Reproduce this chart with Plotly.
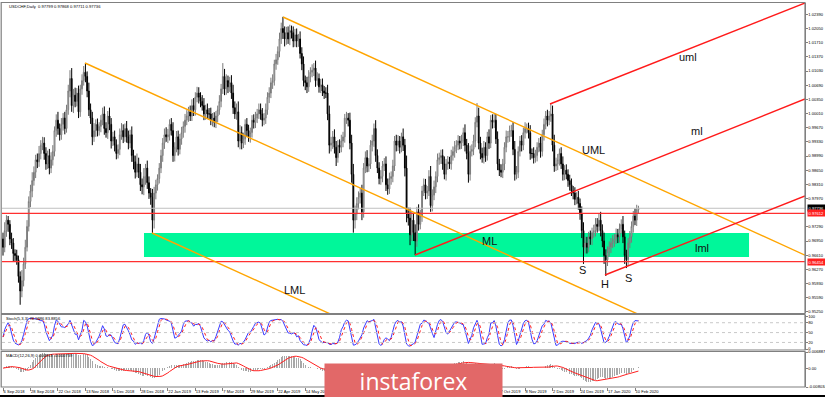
import plotly.graph_objects as go
import pandas as pd
import numpy as np

# ---------------- data ----------------
first_open = 0.9700
closes = [
0.9680,0.9720,0.9745,0.9735,0.9700,0.9690,0.9665,0.9660,0.9650,0.9610,
0.9575,0.9600,0.9640,0.9680,0.9730,0.9790,0.9815,0.9840,0.9860,0.9890,
0.9885,0.9905,0.9925,0.9930,0.9905,0.9880,0.9900,0.9870,0.9890,0.9910,
0.9960,0.9985,0.9965,0.9950,0.9975,0.9990,0.9965,1.0010,1.0055,1.0085,
1.0020,1.0045,1.0030,1.0050,1.0005,1.0060,1.0080,1.0100,1.0090,1.0055,
1.0010,0.9990,0.9945,0.9960,0.9975,0.9960,0.9970,0.9985,1.0000,0.9965,
0.9955,0.9995,0.9975,0.9935,0.9945,0.9925,0.9905,0.9915,0.9950,0.9960,
0.9945,0.9965,0.9945,0.9930,0.9950,0.9900,0.9885,0.9860,0.9880,0.9860,
0.9830,0.9825,0.9850,0.9870,0.9835,0.9810,0.9800,0.9745,0.9810,0.9830,
0.9845,0.9870,0.9900,0.9930,0.9950,0.9945,0.9950,0.9975,0.9960,0.9900,
0.9920,0.9945,0.9915,0.9940,0.9955,0.9970,0.9985,0.9995,1.0005,0.9995,
1.0020,1.0010,1.0040,1.0050,1.0040,1.0030,1.0020,1.0000,1.0010,1.0000,
1.0000,0.9985,0.9990,0.9980,0.9995,1.0010,1.0030,1.0060,1.0090,1.0060,
1.0080,1.0065,1.0075,1.0050,1.0015,1.0000,1.0005,0.9935,0.9955,0.9930,
0.9940,0.9975,0.9960,0.9945,0.9955,0.9985,0.9980,0.9990,1.0000,1.0010,
1.0000,0.9985,0.9990,1.0010,1.0040,1.0050,1.0075,1.0080,1.0120,1.0130,
1.0150,1.0180,1.0205,1.0195,1.0180,1.0195,1.0180,1.0200,1.0195,1.0175,
1.0190,1.0175,1.0180,1.0145,1.0120,1.0080,1.0075,1.0065,1.0090,1.0100,
1.0105,1.0110,1.0080,1.0085,1.0065,1.0070,1.0055,1.0050,1.0050,1.0000,
0.9925,0.9930,0.9945,0.9920,0.9895,0.9925,0.9920,0.9935,0.9945,0.9990,
0.9990,0.9985,0.9930,0.9855,0.9745,0.9760,0.9785,0.9800,0.9810,0.9765,
0.9870,0.9895,0.9875,0.9880,0.9925,0.9935,0.9965,0.9900,0.9870,0.9845,
0.9850,0.9875,0.9880,0.9830,0.9820,0.9845,0.9850,0.9875,0.9935,0.9925,
0.9935,0.9920,0.9945,0.9925,0.9870,0.9760,0.9750,0.9710,0.9745,0.9715,
0.9695,0.9765,0.9735,0.9755,0.9815,0.9830,0.9810,0.9815,0.9850,0.9780,
0.9805,0.9825,0.9850,0.9890,0.9895,0.9900,0.9880,0.9855,0.9880,0.9885,
0.9880,0.9900,0.9910,0.9920,0.9925,0.9935,0.9930,0.9935,0.9955,0.9925,
0.9905,0.9855,0.9910,0.9915,0.9935,0.9980,0.9995,0.9930,0.9905,0.9895,
0.9920,0.9900,0.9945,0.9930,0.9985,0.9980,0.9985,0.9940,0.9880,0.9865,
0.9860,0.9880,0.9920,0.9945,0.9945,0.9960,0.9960,0.9915,0.9855,0.9860,
0.9910,0.9935,0.9925,0.9955,0.9965,0.9965,0.9955,0.9905,0.9905,0.9895,
0.9900,0.9920,0.9930,0.9910,0.9950,0.9975,0.9995,0.9985,0.9995,1.0000,
0.9925,0.9875,0.9880,0.9890,0.9905,0.9880,0.9855,0.9865,0.9855,0.9840,
0.9830,0.9815,0.9810,0.9795,0.9800,0.9785,0.9760,0.9720,0.9680,0.9690,
0.9680,0.9705,0.9700,0.9715,0.9720,0.9735,0.9730,0.9745,0.9720,0.9695,
0.9660,0.9650,0.9670,0.9680,0.9690,0.9695,0.9700,0.9710,0.9705,0.9725,
0.9735,0.9705,0.9660,0.9650,0.9690,0.9705,0.9730,0.9755,0.9745,0.9770,
0.97736]

# upper / lower wick lengths in pips
wick_up = [
15,20,12,10,10,15,12,10,14,10, 12,25,15,18,15,12,15,20,14,12,
15,18,12,15,14,15,12,16,18,15, 10,14,20,12,15,12,15,12,15,20,
25,15,18,12,18,10,15,15,22,12, 20,15,15,18,12,14,10,12,15,18,
15,12,20,15,12,15,14,12,15,18, 15,12,18,15,12,20,14,15,25,15,
20,15,20,10,18,15,12,20,15,12, 10,12,14,12,15,18,14,12,15,20,
12,14,15,12,14,12,15,14,12,15, 15,18,12,15,14,12,15,18,12,15,
14,15,12,14,12,10,15,12,32,18, 15,12,14,18,20,15,20,25,18,15,
15,12,15,14,12,12,14,15,12,15, 15,14,12,15,12,14,12,15,10,14,
12,15,14,28,15,14,15,14,12,15, 14,15,12,18,15,18,12,14,15,12,
14,12,18,15,12,14,15,12,14,20, 20,15,14,18,15,12,14,15,12,10,
15,12,18,20,25,20,15,14,12,20, 12,15,18,14,12,15,12,20,15,14,
15,12,14,18,15,14,12,15,12,15, 14,12,10,20,15,30,15,25,20,15,
20,12,18,15,12,15,14,12,15,25, 14,15,12,15,12,14,15,18,12,14,
12,14,12,15,12,14,12,15,12,20, 15,25,14,12,15,12,31,20,15,14,
15,12,12,18,12,14,15,15,18,12, 14,12,12,15,14,12,14,20,20,15,
12,12,14,12,15,12,14,18,12,15, 14,12,12,15,12,14,12,15,12,24,
20,25,15,14,12,15,18,12,14,12, 14,15,12,14,12,15,12,18,20,15,
15,12,15,12,14,15,15,17,20,15, 20,15,12,14,12,14,12,15,14,12,
12,20,15,14,12,14,12,12,18,12, 6]
wick_dn = [
20,12,15,18,15,14,18,15,12,15, 33,15,14,12,10,12,14,15,12,14,
15,12,14,12,15,14,12,15,12,14, 12,15,15,14,12,15,14,10,12,15,
15,18,14,12,15,12,14,12,14,15, 15,14,20,12,15,14,12,14,12,15,
12,15,14,18,12,15,14,12,14,12, 15,12,14,15,12,15,18,15,12,14,
15,18,20,20,15,14,18,31,20,15, 14,12,12,15,14,12,15,14,12,15,
14,12,15,12,14,12,15,12,14,12, 12,15,14,12,15,14,12,15,14,12,
14,12,15,12,14,15,12,14,12,15, 14,15,12,14,15,12,14,15,20,15,
12,14,15,12,14,12,15,14,12,12, 14,15,12,14,12,14,12,15,12,14,
12,14,12,15,18,14,12,15,14,15, 14,15,14,12,15,14,18,15,12,14,
12,14,15,12,14,15,12,14,12,15, 20,15,14,15,20,12,14,12,15,14,
14,15,15,20,30,20,15,14,15,20, 14,12,15,14,12,15,14,15,12,14,
15,14,12,15,14,12,15,14,12,15, 14,15,12,14,20,20,18,25,15,20,
34,14,15,12,14,12,15,14,12,15, 14,12,15,14,12,15,14,12,15,14,
12,14,12,15,14,12,15,14,12,15, 14,20,15,12,14,15,12,15,14,12,
14,15,12,14,12,15,14,12,15,14, 12,14,15,12,14,12,15,14,15,12,
14,12,15,12,14,12,14,15,12,14, 12,14,12,15,12,14,12,15,12,14,
15,14,12,15,14,12,15,14,12,15, 14,12,15,14,12,15,14,18,40,15,
15,12,14,15,12,14,15,12,14,15, 20,39,15,12,14,12,14,12,15,14,
12,15,20,20,15,12,14,15,12,14, 8]

# price levels and drawn objects (bar index, price)
bid_price = 0.97736
red_levels = [0.97612, 0.96454]
orange_lines = [[(163.04, 1.02326), (466.99, 0.96610)],
                [(47.75, 1.01222), (466.99, 0.93374)],
                [(86.76, 0.97142), (466.99, 0.90026)]]
red_lines = [[(318.5, 1.00238), (466.99, 1.02662)],
             [(239.9, 0.96614), (466.99, 1.00358)],
             [(350.5, 0.96134), (466.99, 0.98030)]]
zone = dict(x0=82.1, x1=434.4, y0=0.96566, y1=0.97142)
labels = [("uml", 398.9, 1.01366), ("ml", 404.1, 0.99590), ("UML", 344.1, 0.99134),
          ("ML", 283.0, 0.96950), ("lml", 407.0, 0.96782), ("LML", 170.0, 0.95774),
          ("S", 337.7, 0.96254), ("H", 350.5, 0.95918), ("S", 364.5, 0.96062)]
price_ticks = [1.02390, 1.02050, 1.01710, 1.01370, 1.01030, 1.00690, 1.00350, 1.00010,
               0.99670, 0.99330, 0.98990, 0.98650, 0.98310, 0.97970, 0.97290, 0.96950,
               0.96610, 0.96270, 0.95930, 0.95590, 0.95250]
title_text = "USDCHF,Daily  0.97799 0.97868 0.97711 0.97736"
stoch_text = "Stoch(5,3,3) 76.5986 83.8856"
macd_text = "MACD(12,26,9) 0.000913 -0.000739"

# ---------------- derived series ----------------
n = min(len(closes), len(wick_up), len(wick_dn))
closes = closes[:n]
opens = [first_open] + closes[:-1]
highs = [max(o, c) + u / 10000 for o, c, u in zip(opens, closes, wick_up[:n])]
lows = [min(o, c) - d / 10000 for o, c, d in zip(opens, closes, wick_dn[:n])]

dates = []
d = pd.Timestamp("2018-09-06")
while len(dates) < n:
    if d.weekday() < 5 and not (d.month == 12 and d.day == 25) and not (d.month == 1 and d.day == 1):
        dates.append(d)
    d += pd.Timedelta(days=1)
xi = list(range(n))
tick_idx = list(range(0, n, 16))
tick_txt = [f"{dates[i].day} {dates[i].strftime('%b %Y')}" for i in tick_idx]

c = pd.Series(closes)
h = pd.Series(highs)
l = pd.Series(lows)
ll = l.rolling(5, min_periods=1).min()
hh = h.rolling(5, min_periods=1).max()
num = (c - ll).rolling(3, min_periods=1).sum()
den = (hh - ll).rolling(3, min_periods=1).sum()
K = 100 * num / den
D = K.rolling(3, min_periods=1).mean()
macd = c.ewm(span=12, adjust=False).mean() - c.ewm(span=26, adjust=False).mean()
sig = macd.rolling(9, min_periods=1).mean()

# ---------------- figure ----------------
FONT = "Arial"
fig = go.Figure()
fig.add_trace(go.Candlestick(
    x=xi, open=opens, high=highs, low=lows, close=closes, xaxis="x", yaxis="y",
    increasing=dict(line=dict(color="#7a7a7a", width=1), fillcolor="#ffffff"),
    decreasing=dict(line=dict(color="#000000", width=1), fillcolor="#000000"),
    whiskerwidth=0, showlegend=False, hoverinfo="skip"))
fig.add_trace(go.Scatter(x=xi, y=K, xaxis="x2", yaxis="y2", mode="lines",
                         line=dict(color="#3a3aff", width=1), showlegend=False, hoverinfo="skip"))
fig.add_trace(go.Scatter(x=xi, y=D, xaxis="x2", yaxis="y2", mode="lines",
                         line=dict(color="#ff2020", width=1, dash="dot"), showlegend=False,
                         hoverinfo="skip"))
fig.add_trace(go.Bar(x=xi, y=macd, xaxis="x3", yaxis="y3", width=0.55,
                     marker=dict(color="#a8a8a8", line=dict(width=0)), showlegend=False,
                     hoverinfo="skip"))
fig.add_trace(go.Scatter(x=xi, y=sig, xaxis="x3", yaxis="y3", mode="lines",
                         line=dict(color="#ff2020", width=1), showlegend=False, hoverinfo="skip"))

xr = [-0.58, 466.99]
ax_common = dict(range=xr, showgrid=False, zeroline=False, showline=False, fixedrange=True,
                 automargin=False)
small = dict(family=FONT, size=4.1, color="#000000")

shapes = []
shapes.append(dict(type="rect", xref="x", yref="y", layer="below", line=dict(width=0),
                   fillcolor="#00f79a", **zone))
shapes.append(dict(type="line", xref="paper", yref="y", x0=0, x1=1, y0=bid_price, y1=bid_price,
                   line=dict(color="#c0c0c0", width=1)))
for lv in red_levels:
    shapes.append(dict(type="line", xref="paper", yref="y", x0=0, x1=1, y0=lv, y1=lv,
                       line=dict(color="#ff3030", width=1.2)))
for (a, b) in orange_lines:
    shapes.append(dict(type="line", xref="x", yref="y", x0=a[0], y0=a[1], x1=b[0], y1=b[1],
                       line=dict(color="#ffa500", width=1.4)))
for (a, b) in red_lines:
    shapes.append(dict(type="line", xref="x", yref="y", x0=a[0], y0=a[1], x1=b[0], y1=b[1],
                       line=dict(color="#ff1a1a", width=1.4)))
for lv in [80, 50, 20]:
    shapes.append(dict(type="line", xref="paper", yref="y2", x0=0, x1=1, y0=lv, y1=lv,
                       line=dict(color="#c8c8c8", width=1, dash="dot")))
H = 384.0
def py(pix):
    return (387 - pix) / H
for top, bot in [(2.5, 313.5), (314.5, 350), (351.5, 387)]:
    shapes.append(dict(type="rect", xref="paper", yref="paper", x0=-0.001, x1=1,
                       y0=py(bot), y1=py(top), line=dict(color="#808080", width=1.2)))
shapes.append(dict(type="line", xref="paper", yref="paper", x0=-0.01, x1=1.03, y0=py(396), y1=py(396),
                   line=dict(color="#000000", width=2)))

ann = []
for t, bx, pr in labels:
    ann.append(dict(text=t, x=bx, y=pr, xref="x", yref="y", showarrow=False,
                    font=dict(family=FONT, size=11, color="#111111")))
ann.append(dict(text=title_text, x=(7 - 2) / 803, y=py(6), xref="paper", yref="paper",
                xanchor="left", yanchor="middle", showarrow=False, font=small))
ann.append(dict(text=stoch_text, x=(4 - 2) / 803, y=py(318), xref="paper", yref="paper",
                xanchor="left", yanchor="middle", showarrow=False, font=small))
ann.append(dict(text=macd_text, x=(4 - 2) / 803, y=py(355), xref="paper", yref="paper",
                xanchor="left", yanchor="middle", showarrow=False, font=small))
# watermark banner (covers the dates beneath it, as in the screenshot)
ann.append(dict(text="instaforex", x=(413.5 - 2) / 803, y=py(380.5), xref="paper", yref="paper",
                xanchor="center", yanchor="middle", showarrow=False, width=177, height=33,
                bgcolor="#e26868", borderpad=0, align="center",
                font=dict(family="Open Sans", size=23, color="#ffffff")))
for val, bg in [(bid_price, "#000000"), (red_levels[0], "#ff2020"), (red_levels[1], "#ff2020")]:
    ann.append(dict(text=f"{val:.5f}", x=1.002, y=val, xref="paper", yref="y", xanchor="left",
                    yanchor="middle", showarrow=False, bgcolor=bg, borderpad=0.5,
                    font=dict(family=FONT, size=4.1, color="#ffffff")))

yax_common = dict(side="right", ticks="outside", ticklen=1.5, tickcolor="#808080", tickfont=small,
                  showgrid=False, zeroline=False, showline=True, linecolor="#808080",
                  fixedrange=True, automargin=False)
fig.update_layout(
    width=825, height=397, margin=dict(l=2, r=20, t=3, b=10, autoexpand=False),
    paper_bgcolor="#ffffff", plot_bgcolor="#ffffff", showlegend=False, bargap=0,
    hovermode=False,
    xaxis=dict(domain=[0, 1], anchor="y", showticklabels=False, ticks="",
               rangeslider=dict(visible=False), **ax_common),
    xaxis2=dict(domain=[0, 1], anchor="y2", showticklabels=False, ticks="", **ax_common),
    xaxis3=dict(domain=[0, 1], anchor="y3", tickvals=tick_idx, ticktext=tick_txt, tickangle=0,
                ticks="outside", ticklen=3, tickcolor="#808080", tickfont=small,
                ticklabelposition="outside right", **ax_common),
    yaxis=dict(domain=[py(313), py(3)], anchor="x",
               range=[0.9797 - 114.5 * 0.00024, 0.9797 + 195.5 * 0.00024],
               tickvals=price_ticks, ticktext=[f"{v:.5f}" for v in price_ticks], **yax_common),
    yaxis2=dict(domain=[py(350), py(315)], anchor="x2", range=[-3, 103.5],
                tickvals=[0, 20, 50, 80, 100], ticktext=["0", "20", "50", "80", "100"], **yax_common),
    yaxis3=dict(domain=[py(387), py(352)], anchor="x3", range=[-0.008034, 0.006887],
                tickvals=[0.006887, 0, -0.008034], ticktext=["0.006887", "0.00", "-0.008034"],
                **yax_common),
    shapes=shapes, annotations=ann,
)
fig.write_html("out.html", config={"displayModeBar": False, "staticPlot": True},
               post_script="document.body.style.margin='0';document.body.style.overflow='hidden';")
